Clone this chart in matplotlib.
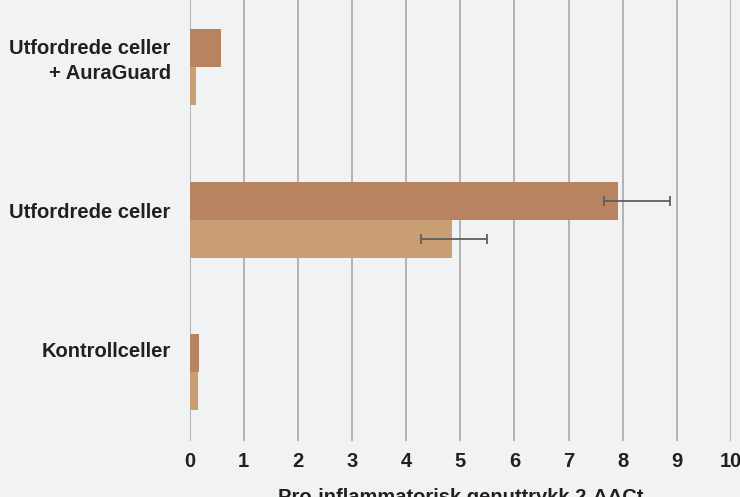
import matplotlib
matplotlib.use("Agg")
import matplotlib.pyplot as plt
import numpy as np

categories = ["Kontrollceller", "Utfordrede celler", "Utfordrede celler\n+ AuraGuard"]
series_dark = [0.17, 7.92, 0.58]
series_light = [0.155, 4.84, 0.12]
dark_err_lo = [0, 0.27, 0]
dark_err_hi = [0, 0.95, 0]
light_err_lo = [0, 0.57, 0]
light_err_hi = [0, 0.65, 0]
xticks = list(range(0, 11))
xlabel = "Pro-inflammatorisk genuttrykk 2-ΔΔCt"

bg = "#f1f2f4"
c_dark = "#b88360"
c_light = "#c99e73"
txt = "#231f20"

plt.rcParams['font.family'] = ['Liberation Sans', 'DejaVu Sans']

fig = plt.figure(figsize=(7.4, 4.97), dpi=100, facecolor=bg)
ax = fig.add_axes([189.6/740, 1-441/497, (731-189.6)/740, 441/497])
ax.set_facecolor(bg)

y = np.arange(len(categories))
h = 0.25
ax.barh(y + h/2, series_dark, height=h, color=c_dark, zorder=2)
ax.barh(y - h/2, series_light, height=h, color=c_light, zorder=2)

for i in range(len(categories)):
    if dark_err_lo[i] or dark_err_hi[i]:
        ax.errorbar(series_dark[i], y[i] + h/2, xerr=[[dark_err_lo[i]], [dark_err_hi[i]]],
                    fmt='none', ecolor='#5e5e5e', elinewidth=1.3, capsize=3.5, capthick=1.3, zorder=3)
    if light_err_lo[i] or light_err_hi[i]:
        ax.errorbar(series_light[i], y[i] - h/2, xerr=[[light_err_lo[i]], [light_err_hi[i]]],
                    fmt='none', ecolor='#5e5e5e', elinewidth=1.3, capsize=3.5, capthick=1.3, zorder=3)

ax.set_xlim(0, 10)
ax.set_ylim(-0.45, 2.44)
ax.set_xticks(xticks)
ax.set_xticklabels([str(t) for t in xticks], fontsize=14.5, fontweight='bold', color=txt)
ax.set_yticks(y)
ax.set_yticklabels([])
# category labels, nudged upward (pixels) as in the reference
nudges_px = [21, 7, 6]
ytrans = ax.get_yaxis_transform()
for yi, lab, dy in zip(y, categories, nudges_px):
    ax.annotate(lab, xy=(0, yi), xycoords=ytrans, xytext=(-13.5, dy*0.72),
                textcoords='offset points', ha='right', va='center',
                fontsize=14.5, fontweight='bold', color=txt, linespacing=1.42,
                multialignment='right', annotation_clip=False)
ax.tick_params(axis='y', length=0)
ax.tick_params(axis='x', length=0, pad=8)
ax.grid(axis='x', color='#a8a8a8', linewidth=1.2, zorder=0)
ax.set_axisbelow(True)
for s in ax.spines.values():
    s.set_visible(False)
ax.set_xlabel(xlabel, fontsize=14.5, fontweight='bold', color=txt, labelpad=12)

fig.savefig("out.png", dpi=100, facecolor=bg)
